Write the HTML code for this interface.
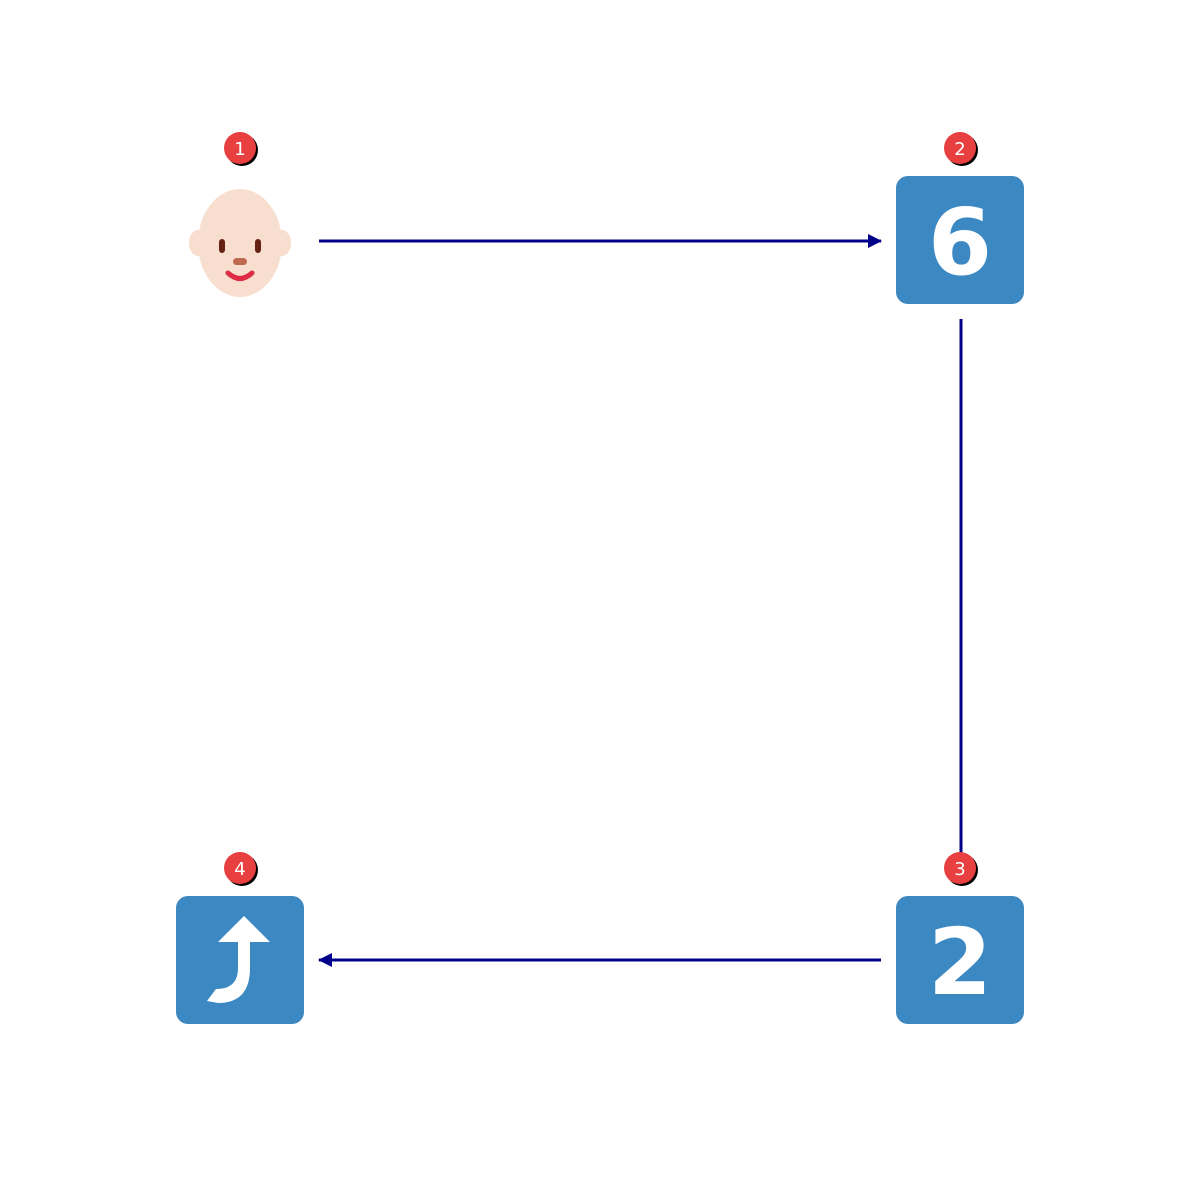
<!DOCTYPE html>
<html><head><style>html,body{margin:0;padding:0;background:#fff;overflow:hidden}svg{display:block}</style></head>
<body>
<svg width="1200" height="1200" viewBox="0 0 1200 1200" xmlns="http://www.w3.org/2000/svg">
<defs>
<marker id="ah" markerWidth="14" markerHeight="14" refX="13" refY="7" orient="auto" markerUnits="userSpaceOnUse">
<path d="M0,0 L14,7 L0,14 z" fill="#00008b"/>
</marker>
</defs>
<line x1="319" y1="241" x2="881" y2="241" stroke="#00008b" stroke-width="3" marker-end="url(#ah)"/>
<line x1="961" y1="319" x2="961" y2="860" stroke="#00008b" stroke-width="3"/>
<line x1="881" y1="960" x2="319" y2="960" stroke="#00008b" stroke-width="3" marker-end="url(#ah)"/>
<ellipse cx="198" cy="243" rx="9" ry="13" fill="#f7dece"/>
<ellipse cx="282" cy="243" rx="9" ry="13" fill="#f7dece"/>
<ellipse cx="240" cy="243" rx="42" ry="54" fill="#f7dece"/>
<rect x="219" y="239" width="6" height="14" rx="3" fill="#662113"/>
<rect x="255" y="239" width="6" height="14" rx="3" fill="#662113"/>
<rect x="233" y="258" width="14" height="7" rx="3.5" fill="#c1694f"/>
<path d="M228,273 Q240,284 252,273" stroke="#dd2e44" stroke-width="5" fill="none" stroke-linecap="round"/>
<rect x="896" y="176" width="128" height="128" rx="12" fill="#3b88c3"/>
<text x="960" y="274" text-anchor="middle" font-family="DejaVu Sans, sans-serif" font-weight="bold" font-size="92" fill="#fff">6</text>
<rect x="896" y="896" width="128" height="128" rx="12" fill="#3b88c3"/>
<text x="960" y="994" text-anchor="middle" font-family="DejaVu Sans, sans-serif" font-weight="bold" font-size="92" fill="#fff">2</text>
<rect x="176" y="896" width="128" height="128" rx="12" fill="#3b88c3"/>
<path d="M238,942 L250,942 L250,968 Q250,1003 218,1003 L207,1001 L216,989 Q238,989 238,968 Z" fill="#fff"/>
<path d="M244,916 L270,942 L218,942 Z" fill="#fff"/>
<g font-family="DejaVu Sans, sans-serif" font-size="18" text-anchor="middle">
<circle cx="242" cy="150" r="16" fill="#000"/><circle cx="240" cy="148" r="16" fill="#e84040"/><text x="240" y="155" fill="#fff">1</text>
<circle cx="962" cy="150" r="16" fill="#000"/><circle cx="960" cy="148" r="16" fill="#e84040"/><text x="960" y="155" fill="#fff">2</text>
<circle cx="962" cy="870" r="16" fill="#000"/><circle cx="960" cy="868" r="16" fill="#e84040"/><text x="960" y="875" fill="#fff">3</text>
<circle cx="242" cy="870" r="16" fill="#000"/><circle cx="240" cy="868" r="16" fill="#e84040"/><text x="240" y="875" fill="#fff">4</text>
</g>
</svg>
</body></html>
